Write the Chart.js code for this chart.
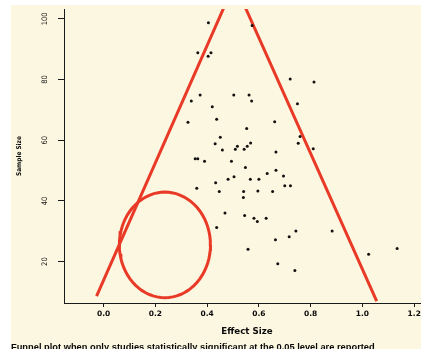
<!DOCTYPE html>
<html>
<head>
<meta charset="utf-8">
<script src="https://cdn.jsdelivr.net/npm/chart.js@4.4.1/dist/chart.umd.min.js"></script>
<style>
  html, body { margin: 0; padding: 0; background: #fff; overflow: hidden; }
  #wrap { position: absolute; left: 11px; top: 5px; width: 423px; height: 352px; background: #fcf7e1; }
</style>
</head>
<body>
<div id="wrap"><canvas id="funnelPlot" width="423" height="352"></canvas></div>
<script>
// study points
const effectSize = [0.405, 0.574, 0.364, 0.415, 0.404, 0.373, 0.503, 0.562, 0.339, 0.420, 0.572, 0.437, 0.326, 0.661, 0.553, 0.451,
  0.721, 0.813, 0.749, 0.759, 0.752, 0.810, 0.700, 0.722, 0.743, 0.717, 0.883, 1.134, 1.024, 0.673, 0.739,
  0.431, 0.517, 0.568, 0.555, 0.459, 0.509, 0.543, 0.666, 0.354, 0.364, 0.390, 0.494, 0.548, 0.666, 0.632,
  0.695, 0.504, 0.481, 0.567, 0.600, 0.433, 0.360, 0.447, 0.541, 0.653, 0.596, 0.540, 0.469, 0.545, 0.581,
  0.594, 0.628, 0.437, 0.664, 0.558];
const sampleSize = [98.7, 97.8, 88.8, 88.8, 87.7, 74.9, 74.9, 74.9, 72.9, 71.0, 72.9, 66.9, 65.9, 66.1, 63.9, 61.0,
  80.2, 79.2, 72.0, 61.2, 59.0, 57.2, 45.0, 45.0, 30.1, 28.2, 30.1, 24.3, 22.4, 19.3, 17.1,
  58.8, 58.0, 59.1, 58.0, 56.8, 57.0, 57.0, 56.1, 53.9, 53.9, 53.1, 53.1, 51.0, 50.1, 49.0,
  48.2, 48.0, 47.1, 47.1, 47.1, 46.0, 44.2, 43.1, 43.1, 43.1, 43.3, 41.1, 36.0, 35.2, 34.3,
  33.2, 34.3, 31.2, 27.2, 24.1];

const xTicks = [0.0, 0.2, 0.4, 0.6, 0.8, 1.0, 1.2];
const yTicks = [20, 40, 60, 80, 100];

// hand drawn red funnel and circle
const funnelX = [-0.027, 0.506, 1.055];
const funnelY = [8.6, 111.7, 7.0];
const ringCentre = [0.237, 25.5];
const ringRadius = [0.176, 17.4];

const red = "#e83a27";
const ink = "#1a1a1a";

const points = effectSize.map((x, i) => ({ x: x, y: sampleSize[i] }));
const funnel = funnelX.map((x, i) => ({ x: x, y: funnelY[i] }));
const ring = [];
for (let i = 0; i <= 72; i++) {
  const t = (i / 72) * Math.PI * 2;
  ring.push({ x: ringCentre[0] + ringRadius[0] * Math.cos(t), y: ringCentre[1] + ringRadius[1] * Math.sin(t) });
}

const ctx = document.getElementById("funnelPlot").getContext("2d");

new Chart(ctx, {
  type: "scatter",
  data: {
    datasets: [
      { data: points, pointRadius: 1.5, pointBackgroundColor: "#111", pointBorderWidth: 0 },
      { data: funnel, showLine: true, borderColor: red, borderWidth: 3, pointRadius: 0 },
      { data: ring, showLine: true, borderColor: red, borderWidth: 3, pointRadius: 0, tension: 0 },
    ],
  },
  options: {
    responsive: false,
    animation: false,
    devicePixelRatio: 1,
    layout: { padding: 0 },
    plugins: {
      legend: { display: false },
      tooltip: { enabled: false },
      title: {
        display: true,
        position: "bottom",
        align: "start",
        text: "Funnel plot when only studies statistically significant at the 0.05 level are reported",
        color: "#0a0a0a",
        font: { family: "Liberation Sans", size: 9.3, weight: "bold" },
        padding: { top: 0, bottom: 3.9 },
      },
    },
    scales: {
      x: {
        type: "linear",
        min: -0.1528,
        max: 1.261,
        afterBuildTicks: (scale) => { scale.ticks = xTicks.map((v) => ({ value: v })); },
        afterFit: (scale) => { scale.height = 38.9; scale.paddingLeft = 0; scale.paddingRight = 0; },
        grid: { drawOnChartArea: false, drawTicks: true, tickLength: 4, color: ink },
        border: { display: true, color: ink, width: 1 },
        ticks: {
          autoSkip: false,
          maxRotation: 0,
          padding: 2.5,
          color: "#0a0a0a",
          font: { family: "DejaVu Sans", size: 7.5, weight: "bold" },
          callback: (v) => v.toFixed(1),
        },
        title: {
          display: true,
          text: "Effect Size",
          color: "#0a0a0a",
          font: { family: "DejaVu Sans", size: 8.7, weight: "bold" },
          padding: { top: 0, bottom: 5.2 },
        },
      },
      y: {
        type: "linear",
        min: 6.34,
        max: 103.25,
        afterBuildTicks: (scale) => { scale.ticks = yTicks.map((v) => ({ value: v })); },
        afterFit: (scale) => { scale.width = 53; scale.paddingTop = 0; scale.paddingBottom = 0; },
        grid: { drawOnChartArea: false, drawTicks: true, tickLength: 6, color: ink },
        border: { display: true, color: ink, width: 1 },
        ticks: {
          autoSkip: false,
          minRotation: 90,
          maxRotation: 90,
          crossAlign: "center",
          padding: 7,
          color: "#111",
          font: { family: "DejaVu Sans Condensed", size: 7.5 },
        },
        title: {
          display: true,
          text: "Sample Size",
          color: "#0a0a0a",
          font: { family: "DejaVu Sans Condensed", size: 6.5, weight: "bold" },
          padding: { top: 4.8, bottom: 0 },
        },
      },
    },
  },
});
</script>
</body>
</html>
